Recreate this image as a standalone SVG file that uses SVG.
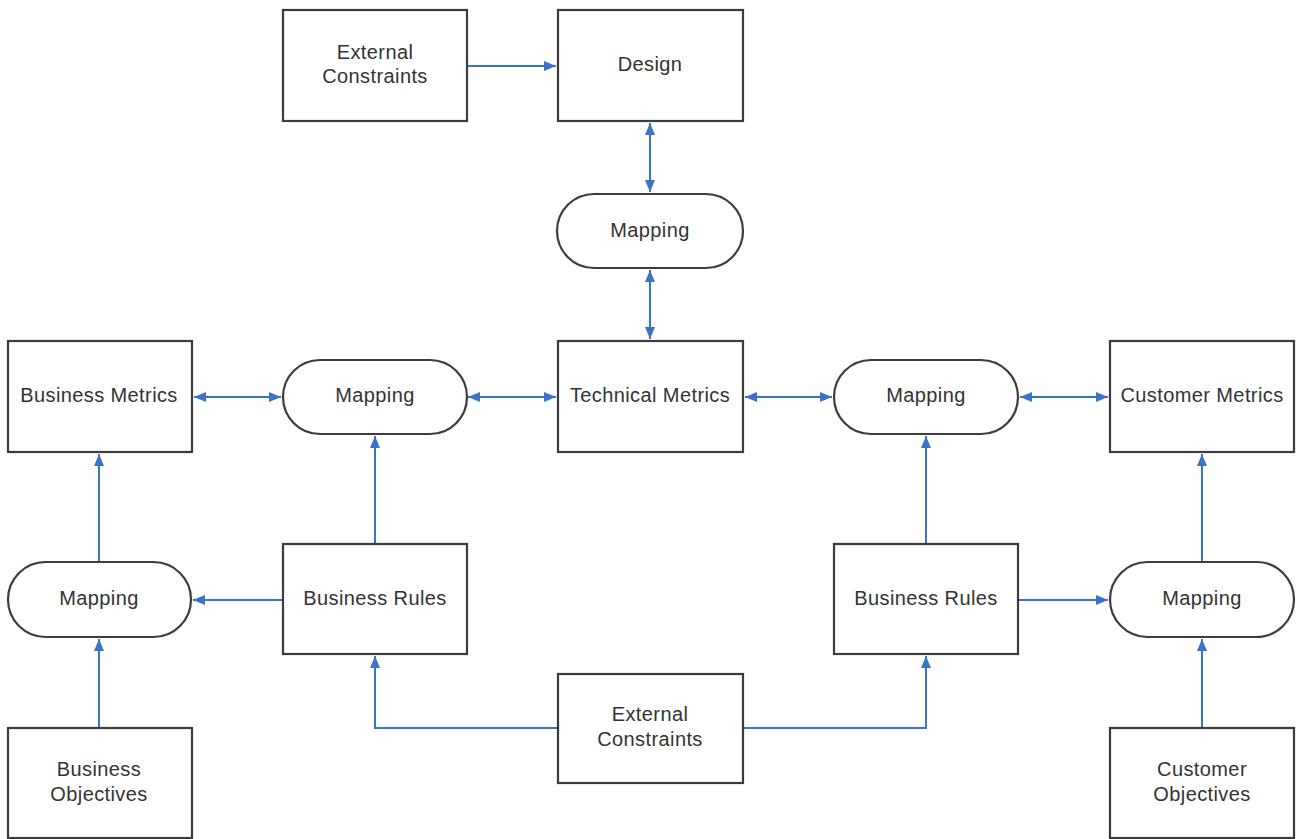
<svg xmlns="http://www.w3.org/2000/svg" width="1297" height="839" viewBox="0 0 1297 839">
<defs>
<marker id="ah" markerUnits="userSpaceOnUse" markerWidth="13" markerHeight="11" refX="12" refY="5.5" orient="auto-start-reverse" viewBox="0 0 13 11">
<path d="M0,0.5 L12,5.5 L0,10.5 z" fill="#3b73c6"/>
</marker>
<style>
.box{fill:#fff;stroke:#3c3c3c;stroke-width:2.2}
.t{font-family:"Liberation Sans",Arial,sans-serif;font-size:20px;letter-spacing:0.4px;fill:#333;text-anchor:middle}
.c{fill:none;stroke:#3b73c6;stroke-width:2}
</style>
</defs>
<rect width="1297" height="839" fill="#fff"/>
<g id="connectors">
<path class="c" d="M467,66 H556" marker-end="url(#ah)"/>
<path class="c" d="M650,123 V192" marker-start="url(#ah)" marker-end="url(#ah)"/>
<path class="c" d="M650,270 V339" marker-start="url(#ah)" marker-end="url(#ah)"/>
<path class="c" d="M194,397 H281" marker-start="url(#ah)" marker-end="url(#ah)"/>
<path class="c" d="M468,397 H556" marker-start="url(#ah)" marker-end="url(#ah)"/>
<path class="c" d="M745,397 H832" marker-start="url(#ah)" marker-end="url(#ah)"/>
<path class="c" d="M1020,397 H1108" marker-start="url(#ah)" marker-end="url(#ah)"/>
<path class="c" d="M375,544 V436" marker-end="url(#ah)"/>
<path class="c" d="M926,544 V436" marker-end="url(#ah)"/>
<path class="c" d="M283,600 H193" marker-end="url(#ah)"/>
<path class="c" d="M1018,600 H1108" marker-end="url(#ah)"/>
<path class="c" d="M99,562 V454" marker-end="url(#ah)"/>
<path class="c" d="M99,727 V639" marker-end="url(#ah)"/>
<path class="c" d="M1202,562 V454" marker-end="url(#ah)"/>
<path class="c" d="M1202,727 V639" marker-end="url(#ah)"/>
<path class="c" d="M558,728 H375 V656" marker-end="url(#ah)"/>
<path class="c" d="M743,728 H926 V656" marker-end="url(#ah)"/>
</g>
<g id="ext-top"><rect class="box" x="283" y="10" width="184" height="111"/><text class="t" x="375" y="59">External</text><text class="t" x="375" y="83">Constraints</text></g>
<g id="design"><rect class="box" x="558" y="10" width="185" height="111"/><text class="t" x="650" y="71">Design</text></g>
<g id="map-top"><rect class="box" x="557" y="194" width="186" height="74" rx="37"/><text class="t" x="650" y="237">Mapping</text></g>
<g id="tech-metrics"><rect class="box" x="558" y="341" width="185" height="111"/><text class="t" x="650" y="402">Technical Metrics</text></g>
<g id="bus-metrics"><rect class="box" x="8" y="341" width="184" height="111"/><text class="t" x="99" y="402">Business Metrics</text></g>
<g id="map-left"><rect class="box" x="283" y="360" width="184" height="74" rx="37"/><text class="t" x="375" y="402">Mapping</text></g>
<g id="map-right"><rect class="box" x="834" y="360" width="184" height="74" rx="37"/><text class="t" x="926" y="402">Mapping</text></g>
<g id="cust-metrics"><rect class="box" x="1110" y="341" width="184" height="111"/><text class="t" x="1202" y="402">Customer Metrics</text></g>
<g id="rules-left"><rect class="box" x="283" y="544" width="184" height="110"/><text class="t" x="375" y="605">Business Rules</text></g>
<g id="rules-right"><rect class="box" x="834" y="544" width="184" height="110"/><text class="t" x="926" y="605">Business Rules</text></g>
<g id="map-bl"><rect class="box" x="8" y="562" width="183" height="75" rx="37.5"/><text class="t" x="99" y="605">Mapping</text></g>
<g id="map-br"><rect class="box" x="1110" y="562" width="184" height="75" rx="37.5"/><text class="t" x="1202" y="605">Mapping</text></g>
<g id="ext-bottom"><rect class="box" x="558" y="674" width="185" height="109"/><text class="t" x="650" y="721">External</text><text class="t" x="650" y="746">Constraints</text></g>
<g id="bus-obj"><rect class="box" x="8" y="728" width="184" height="110"/><text class="t" x="99" y="776">Business</text><text class="t" x="99" y="801">Objectives</text></g>
<g id="cust-obj"><rect class="box" x="1110" y="728" width="184" height="110"/><text class="t" x="1202" y="776">Customer</text><text class="t" x="1202" y="801">Objectives</text></g>
</svg>
